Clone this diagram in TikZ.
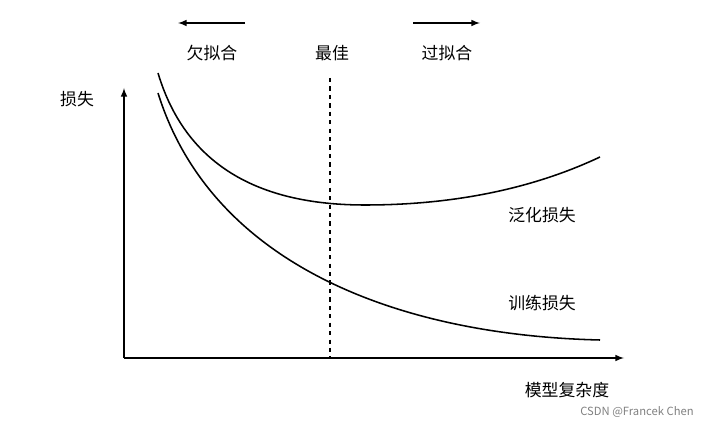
\documentclass[tikz,border=0pt]{standalone}
\usepackage{fontspec}
\setmainfont{Noto Sans CJK SC}
\begin{document}
\begin{tikzpicture}[x=0.025cm,y=-0.025cm,line width=1.1pt]
  \useasboundingbox (0,0) rectangle (717,425);
  \tikzset{lbl/.style={font=\fontsize{12}{14}\selectfont}}
  % axes
  \coordinate (O) at (124,358);
  \coordinate (ytop) at (124,88);
  \coordinate (xend) at (624,358);
  \draw[-latex] (O) -- (ytop);
  \draw[-latex] (O) -- (xend);
  \node[lbl] (loss) at (77,99) {损失};
  \node[lbl] (cplx) at (567,390) {模型复杂度};
  % curves
  \draw (158,73) .. controls (190,180) and (280,205) .. (365,205)
        .. controls (450,205) and (530,190) .. (600,157);
  \draw (158,93) .. controls (210,260) and (390,335) .. (600,340);
  \node[lbl] (gen) at (542,215) {泛化损失};
  \node[lbl] (train) at (542,303) {训练损失};
  % best point
  \coordinate (btop) at (330,78);
  \coordinate (bbot) at (330,358);
  \draw[dashed,dash pattern=on 3pt off 3pt] (btop) -- (bbot);
  \node[lbl] (under) at (212,53) {欠拟合};
  \node[lbl] (best) at (332,53) {最佳};
  \node[lbl] (over) at (447,53) {过拟合};
  \coordinate (ua) at (245,23); \coordinate (ub) at (178,23);
  \coordinate (oa) at (413,23); \coordinate (ob) at (480,23);
  \draw[-latex] (ua) -- (ub);
  \draw[-latex] (oa) -- (ob);
  \node[font=\fontsize{8}{9}\selectfont,text=gray] (wm) at (637,412) {CSDN @Francek Chen};
\end{tikzpicture}
\end{document}
